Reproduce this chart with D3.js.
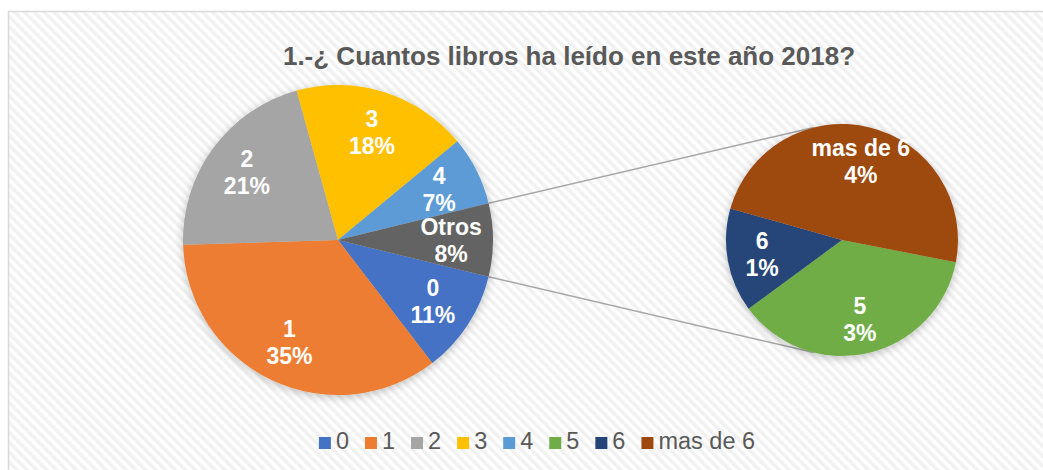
<!DOCTYPE html>
<html>
<head>
<meta charset="utf-8">
<script src="https://cdn.jsdelivr.net/npm/d3@7"></script>
<style>
  body { margin: 0; background: #fff; }
  text { font-family: "Liberation Sans", Arial, sans-serif; }
</style>
</head>
<body>
<div id="chart"></div>
<script>
// data (percent of answers)
var mainCats = ["0", "1", "2", "3", "4"];
var mainValues = [10.8, 34.9, 21.2, 18.3, 7.2];
var otherCats = ["5", "6", "mas de 6"];
var otherValues = [2.8, 1.1, 3.7];
var otherName = "Otros";
var legendCats = ["0", "1", "2", "3", "4", "5", "6", "mas de 6"];
var colors = ["#4472C4", "#ED7D31", "#A5A5A5", "#FFC000", "#5B9BD5", "#70AD47", "#264478", "#9E480E"];
var otherColor = "#636363";
var title = "1.-¿ Cuantos libros ha leído en este año 2018?";

var width = 1043, height = 470;
var main = {cx: 338, cy: 240, r: 155},
    sec = {cx: 842, cy: 240, r: 116};

var color = d3.scaleOrdinal().domain(legendCats).range(colors);

var svg = d3.select("#chart")
  .append("svg")
    .attr("width", width)
    .attr("height", height);

var defs = svg.append("defs");
var pat = defs.append("pattern")
    .attr("id", "stripes")
    .attr("patternUnits", "userSpaceOnUse")
    .attr("width", 7)
    .attr("height", 7)
    .attr("patternTransform", "rotate(-45)");
pat.append("rect").attr("width", 7).attr("height", 7).attr("fill", "#ffffff");
pat.append("rect").attr("width", 3.5).attr("height", 7).attr("fill", "#f1f1f1");

var shadow = defs.append("filter")
    .attr("id", "shadow")
    .attr("x", "-20%").attr("y", "-20%")
    .attr("width", "140%").attr("height", "140%");
shadow.append("feDropShadow")
    .attr("dx", 0).attr("dy", 2)
    .attr("stdDeviation", 4)
    .attr("flood-color", "#000")
    .attr("flood-opacity", 0.25);

// chart area
svg.append("rect")
    .attr("x", 8.5).attr("y", 11.5)
    .attr("width", 1100).attr("height", 500)
    .attr("fill", "url(#stripes)")
    .attr("stroke", "#d9d9d9")
    .attr("stroke-width", 1.5);

svg.append("text")
    .attr("x", 569)
    .attr("y", 65)
    .attr("text-anchor", "middle")
    .style("font-size", "26px")
    .style("font-weight", "bold")
    .style("fill", "#595959")
    .text(title);

// main pie: the "Otros" slice is centred on 3 o'clock
var otherTotal = d3.sum(otherValues);
var mainData = mainCats.map(function(c, i) { return {name: c, value: mainValues[i]}; });
mainData.push({name: otherName, value: otherTotal});
var total = d3.sum(mainData, function(d) { return d.value; });
var otherAngle = otherTotal / total * 2 * Math.PI;
var start = Math.PI / 2 + otherAngle / 2;

var mainPie = d3.pie()
    .sort(null)
    .value(function(d) { return d.value; })
    .startAngle(start)
    .endAngle(start + 2 * Math.PI);
var mainArcs = mainPie(mainData);
var otherArc = mainArcs[mainArcs.length - 1];

var secData = otherCats.map(function(c, i) { return {name: c, value: otherValues[i]}; });
var secStart = 101 * Math.PI / 180;
var secPie = d3.pie()
    .sort(null)
    .value(function(d) { return d.value; })
    .startAngle(secStart)
    .endAngle(secStart + 2 * Math.PI);
var secArcs = secPie(secData);

// connector lines from the Otros slice to the secondary pie
function pt(c, a, r) { return [c.cx + r * Math.sin(a), c.cy - r * Math.cos(a)]; }
var links = [
  [pt(main, otherArc.startAngle, main.r), pt(sec, -14 * Math.PI / 180, sec.r)],
  [pt(main, otherArc.endAngle, main.r), pt(sec, 194 * Math.PI / 180, sec.r)]
];
svg.selectAll("line.link")
    .data(links)
    .enter()
    .append("line")
      .attr("class", "link")
      .attr("x1", function(d) { return d[0][0]; })
      .attr("y1", function(d) { return d[0][1]; })
      .attr("x2", function(d) { return d[1][0]; })
      .attr("y2", function(d) { return d[1][1]; })
      .attr("stroke", "#a6a6a6")
      .attr("stroke-width", 1.5);

function drawPie(c, arcs, labelR) {
  var arc = d3.arc().innerRadius(0).outerRadius(c.r);
  var lab = d3.arc().innerRadius(c.r * labelR).outerRadius(c.r * labelR);
  var g = svg.append("g")
      .attr("transform", "translate(" + c.cx + "," + c.cy + ")");
  g.append("g")
      .attr("filter", "url(#shadow)")
    .selectAll("path")
    .data(arcs)
    .enter()
    .append("path")
      .attr("d", arc)
      .attr("fill", function(d) { return d.data.name == otherName ? otherColor : color(d.data.name); });
  var t = g.selectAll("text")
    .data(arcs)
    .enter()
    .append("text")
      .attr("transform", function(d) { return "translate(" + lab.centroid(d) + ")"; })
      .attr("text-anchor", "middle")
      .style("font-size", "23px")
      .style("font-weight", "bold")
      .style("fill", "#fff");
  t.append("tspan")
      .attr("x", 0).attr("y", -5.5)
      .text(function(d) { return d.data.name; });
  t.append("tspan")
      .attr("x", 0).attr("y", 21.5)
      .text(function(d) { return Math.round(d.data.value / total * 100) + "%"; });
}
drawPie(main, mainArcs, 0.73);
drawPie(sec, secArcs, 0.7);

// legend
var legend = svg.append("g");
var items = legend.selectAll("g")
    .data(legendCats)
    .enter()
    .append("g");
items.append("rect")
    .attr("y", 437)
    .attr("width", 12)
    .attr("height", 12)
    .attr("fill", function(d) { return color(d); });
items.append("text")
    .attr("x", 17)
    .attr("y", 449)
    .style("font-size", "23.5px")
    .style("fill", "#595959")
    .text(function(d) { return d; });
var x = 0, pos = [];
items.each(function() {
  pos.push(x);
  x += 17 + this.querySelector("text").getComputedTextLength() + 16;
});
var legendW = x - 16;
items.attr("transform", function(d, i) { return "translate(" + (537 - legendW / 2 + pos[i]) + ",0)"; });
</script>
</body>
</html>
